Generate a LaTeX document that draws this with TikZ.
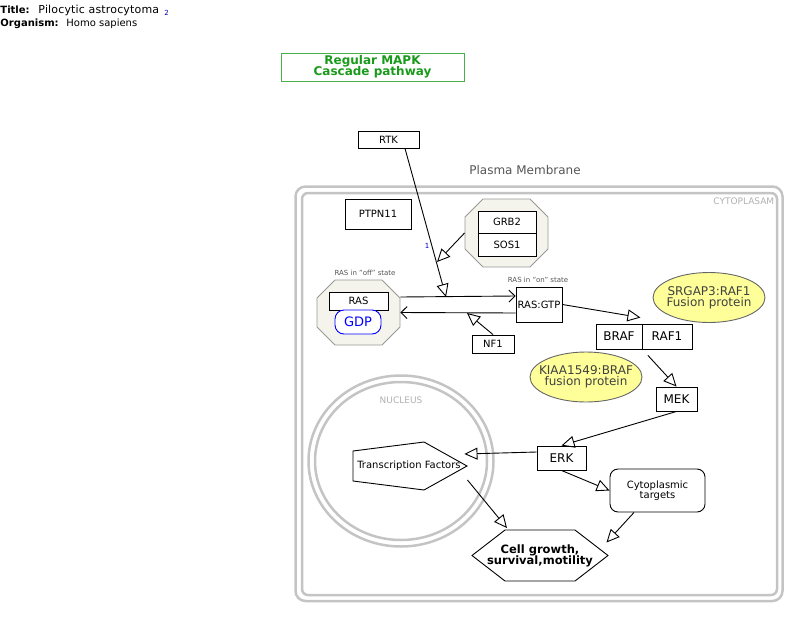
\documentclass[tikz,border=0pt]{standalone}
\usepackage{fontspec}
\setmainfont{DejaVu Sans}
\usetikzlibrary{arrows.meta, shapes.geometric, calc}
\definecolor{memgray}{HTML}{C4C4C4}
\definecolor{cplxfill}{HTML}{F4F4EC}
\definecolor{fusionyellow}{HTML}{FFFF99}
\definecolor{pathgreen}{HTML}{1A9A1A}
\definecolor{lblgray}{HTML}{555555}
\newcommand{\fsz}[1]{\fontsize{#1}{#1}\selectfont}
\tikzset{
    gene/.style={draw, fill=white, inner sep=0pt, font=\fsz{10}}, % plain data node
    biggene/.style={gene, font=\fsz{12}},
    fusion/.style={ellipse, draw=black!60, fill=fusionyellow, text=black!75,
        inner xsep=-10pt, inner ysep=0pt, minimum width=112pt, minimum height=50pt,
        align=center, font=\fsz{12}\linespread{0.95}\selectfont},
    cplx/.style={draw=gray!80, fill=cplxfill}, % complex outline
    inh/.style={-{Triangle[open, length=13pt, width=12pt]}}, % open triangle tip
    conv/.style={-{Straight Barb[length=6pt, width=12pt]}},
    membrane/.style={draw=memgray, line width=2.5pt},
    small/.style={font=\fsz{7}, text=lblgray},
}

\begin{document}
\begin{tikzpicture}[x=1pt, y=-1pt, line width=0.9pt]
    \useasboundingbox (0,0) rectangle (799,618);

    % header
    \node[anchor=west, inner sep=0pt, font=\fsz{10}\bfseries] (ttl) at (0,10) {Title:};
    \node[anchor=west, inner sep=0pt, font=\fsz{11}\addfontfeature{LetterSpace=1.5}] (ttltext) at (38,10) {Pilocytic astrocytoma};
    \node[anchor=west, inner sep=0pt, font=\fsz{7}, text=blue!70!black] (ttlref) at (164,13) {2};
    \node[anchor=west, inner sep=0pt, font=\fsz{10}\bfseries] (org) at (0,24) {Organism:};
    \node[anchor=west, inner sep=0pt, font=\fsz{10}] (orgtext) at (66,24) {Homo sapiens};
    \node[draw=pathgreen!80, line width=0.6pt, minimum width=183pt, minimum height=28pt, inner sep=0pt,
        text=pathgreen, align=center, font=\fsz{12}\bfseries] (pathname) at (372.5,67) {Regular MAPK\\[-1pt]Cascade pathway};

    % cell compartments
    \draw[membrane, rounded corners=10pt] (295.5,186.5) rectangle (782.5,601);
    \draw[membrane, rounded corners=6pt] (302,193) rectangle (777,595);
    \node[font=\fsz{12}, text=lblgray] (pm) at (525,170) {Plasma Membrane};
    \node[anchor=east, font=\fsz{9}, text=memgray!90!black] (cyt) at (778,201) {CYTOPLASAM};
    \draw[membrane] (401,461) ellipse (92.5pt and 85.5pt);
    \draw[membrane] (401,461) ellipse (86pt and 79pt);
    \node[font=\fsz{9}, text=memgray!90!black] (nuc) at (401,400) {NUCLEUS};

    % complexes
    \draw[cplx] (483,199) -- (530,199) -- (548,217) -- (548,249) -- (530,267) -- (483,267) -- (465,249) -- (465,217) -- cycle;
    \node[minimum width=83pt, minimum height=68pt] (grbcx) at (506.5,233) {};
    \draw[cplx] (335,280) -- (382,280) -- (400,298) -- (400,327) -- (382,345) -- (335,345) -- (317,327) -- (317,298) -- cycle;
    \node[minimum width=83pt, minimum height=65pt] (rascx) at (358.5,312.5) {};
    \node[small] (rasoff) at (365,273) {RAS in "off" state};
    \node[small] (rason) at (538,280) {RAS in "on" state};

    % data nodes
    \node[gene, minimum width=61pt, minimum height=17pt] (rtk) at (388.5,139.5) {RTK};
    \node[gene, minimum width=66pt, minimum height=30pt] (ptpn11) at (378,214) {PTPN11};
    \node[gene, minimum width=58pt, minimum height=22pt] (grb2) at (507,222) {GRB2};
    \node[gene, minimum width=58pt, minimum height=23pt] (sos1) at (507,244.5) {SOS1};
    \node[gene, minimum width=59pt, minimum height=18pt] (ras) at (358.5,301) {RAS};
    \node[gene, draw=blue, text=blue, rounded corners=9pt, minimum width=46pt,
        minimum height=24pt, font=\fsz{13}] (gdp) at (358,322) {GDP};
    \node[gene, minimum width=46pt, minimum height=35pt] (rasgtp) at (539,304.5) {RAS:GTP};
    \node[gene, minimum width=42pt, minimum height=18pt] (nf1) at (493,344) {NF1};
    \node[biggene, minimum width=46pt, minimum height=25pt] (braf) at (619,336.5) {BRAF};
    \node[biggene, minimum width=50pt, minimum height=25pt] (raf1) at (667,336.5) {RAF1};
    \node[biggene, minimum width=41pt, minimum height=24pt] (mek) at (676.5,399) {MEK};
    \node[biggene, minimum width=49pt, minimum height=24pt] (erk) at (561.5,458) {ERK};
    \node[gene, rounded corners=8pt, minimum width=95pt, minimum height=43pt,
        align=center] (cyto) at (657.5,490.5) {Cytoplasmic\\targets};
    \node[fusion] (srgap) at (709,297.5) {SRGAP3:RAF1\\Fusion protein};
    \node[fusion] (kiaa) at (586,377) {KIAA1549:BRAF\\fusion protein};

    % transcription factors and outcome
    \draw[fill=white] (353,451) -- (424,442) -- (467,466) -- (424,490) -- (353,481) -- cycle;
    \node[minimum width=114pt, minimum height=48pt, inner sep=0pt] (tf) at (410,466) {};
    \node[font=\fsz{10}] (tftext) at (409,466) {Transcription Factors};
    \draw[fill=white] (472,555.5) -- (505,530) -- (575,530) -- (608,555.5) -- (575,581) -- (505,581) -- cycle;
    \node[minimum width=136pt, minimum height=51pt, inner sep=0pt, align=center,
        font=\fsz{11.5}\bfseries] (cell) at (540,556) {Cell growth,\\survival,motility};

    % interactions
    \coordinate (rtkpt) at (437,262);
    \coordinate (actpt) at (446,297);
    \coordinate (nfpt) at (467,313);
    \draw[inh] ([xshift=16.5pt]rtk.south) -- (actpt);
    \node[font=\fsz{7}, text=blue!70!black] (one) at (427,246) {1};
    \draw[inh] (grbcx.west) -- (rtkpt);
    \draw[conv] ([yshift=15.5pt]rascx.east) -- ([yshift=8.5pt]rasgtp.west);
    \draw[conv] ([yshift=-8.5pt]rasgtp.west) -- (rascx.east);
    \draw[inh] (nf1.north) -- (nfpt);
    \draw[inh] (rasgtp.east) -- ([xshift=-2pt, yshift=6pt]braf.north east);
    \draw[inh, shorten <=8pt] (braf.south east) -- (mek.north);
    \draw[inh] (mek.south) -- (erk.north);
    \draw[inh] ([yshift=6pt]erk.west) -- ([xshift=-3pt, yshift=12pt]tf.east);
    \draw[inh] (erk.south) -- (cyto.west);
    \draw[inh] ([yshift=-14pt]tf.east) -- ([xshift=-33pt, yshift=2pt]cell.north);
    \draw[inh] ([xshift=-23.5pt]cyto.south) -- ([xshift=-2pt, yshift=13.5pt]cell.east);
\end{tikzpicture}
\end{document}
